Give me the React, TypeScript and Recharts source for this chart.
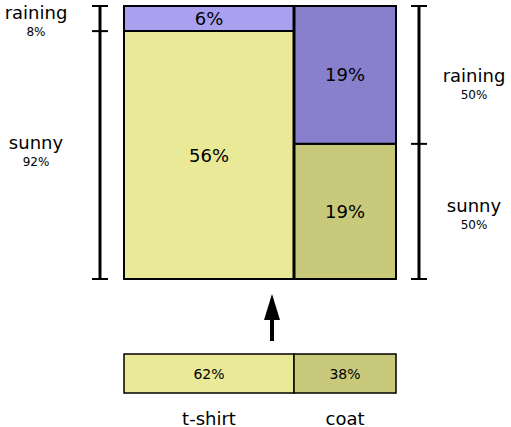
import { ComposedChart, XAxis, YAxis, Line, ReferenceArea, ReferenceLine, ReferenceDot } from 'recharts';

// clothing split (x axis) and rain share inside each column
const clothes = ['t-shirt', 'coat'];
const clothesShare = [0.625, 0.375];
const clothesLabels = ['62%', '38%'];
const rainShare = [0.092, 0.505];
const rainLabels = ['6%', '19%'];
const sunLabels = ['56%', '19%'];
const rainColors = ['#a9a1f0', '#8880cc'];
const sunColors = ['#e9e997', '#c8c97a'];
const leftBracket = [
  { name: 'raining', pct: '8%' },
  { name: 'sunny', pct: '92%' },
];
const rightBracket = [
  { name: 'raining', pct: '50%' },
  { name: 'sunny', pct: '50%' },
];
const frame = [
  { x: 0, y: 0 },
  { x: 1, y: 1 },
];

const FONT = 'DejaVu Sans, sans-serif';
const PX = 1 / 272;
const PY = 1 / 273;

const txt = (value: string, size: number) => (props: any) => {
  const vb = props.viewBox || {};
  const x = vb.cx ?? vb.x + (vb.width || 0) / 2;
  const y = vb.cy ?? vb.y + (vb.height || 0) / 2;
  return (
    <text x={x} y={y} textAnchor="middle" dominantBaseline="central" fontFamily={FONT} fontSize={size} fill="#000">
      {value}
    </text>
  );
};

const Arrow = (props: any) => {
  const { cx, cy } = props;
  return <polygon points={`${cx},${cy} ${cx - 8},${cy + 26} ${cx + 8},${cy + 26}`} fill="#000" />;
};

export default function App() {
  const splitX = clothesShare[0];
  const lb = -24 * PX;
  const rb = 1 + 23 * PX;
  const tick = 8 * PX;
  const leftTicks = [1, 1 - rainShare[0], 0];
  const rightTicks = [1, 1 - rainShare[1], 0];
  const barTop = -75 * PY;
  const barBot = -114 * PY;

  const items: any[] = [];
  [0, 1].forEach((i) => {
    const x1 = i === 0 ? 0 : splitX;
    const x2 = i === 0 ? splitX : 1;
    items.push(
      <ReferenceArea key={`s${i}`} x1={x1} x2={x2} y1={0} y2={1 - rainShare[i]} fill={sunColors[i]} fillOpacity={1} stroke="#000" strokeWidth={2} ifOverflow="visible" label={txt(sunLabels[i], 18)} />,
      <ReferenceArea key={`r${i}`} x1={x1} x2={x2} y1={1 - rainShare[i]} y2={1} fill={rainColors[i]} fillOpacity={1} stroke="#000" strokeWidth={2} ifOverflow="visible" label={txt(rainLabels[i], 18)} />,
      <ReferenceArea key={`b${i}`} x1={x1} x2={x2} y1={barBot} y2={barTop} fill={sunColors[i]} fillOpacity={1} stroke="#000" strokeWidth={1.5} ifOverflow="visible" label={txt(clothesLabels[i], 14)} />,
      <ReferenceDot key={`c${i}`} x={(x1 + x2) / 2} y={-139 * PY} r={0} fill="none" stroke="none" ifOverflow="visible" label={txt(clothes[i], 18)} />
    );
  });
  items.push(
    <ReferenceLine key="split" segment={[{ x: splitX, y: 0 }, { x: splitX, y: 1 }]} stroke="#000" strokeWidth={3} ifOverflow="visible" />,
    <ReferenceLine key="lb" segment={[{ x: lb, y: 0 }, { x: lb, y: 1 }]} stroke="#000" strokeWidth={3} ifOverflow="visible" />,
    <ReferenceLine key="rb" segment={[{ x: rb, y: 0 }, { x: rb, y: 1 }]} stroke="#000" strokeWidth={3} ifOverflow="visible" />
  );
  leftTicks.forEach((t, i) =>
    items.push(<ReferenceLine key={`lt${i}`} segment={[{ x: lb - tick, y: t }, { x: lb + tick, y: t }]} stroke="#000" strokeWidth={2} ifOverflow="visible" />)
  );
  rightTicks.forEach((t, i) =>
    items.push(<ReferenceLine key={`rt${i}`} segment={[{ x: rb - tick, y: t }, { x: rb + tick, y: t }]} stroke="#000" strokeWidth={2} ifOverflow="visible" />)
  );
  leftBracket.forEach((b, i) => {
    const yc = i === 0 ? 1 - 6 * PY : 1 - 136 * PY;
    items.push(
      <ReferenceDot key={`ln${i}`} x={-88 * PX} y={yc} r={0} fill="none" stroke="none" ifOverflow="visible" label={txt(b.name, 18)} />,
      <ReferenceDot key={`lp${i}`} x={-88 * PX} y={yc - 20 * PY} r={0} fill="none" stroke="none" ifOverflow="visible" label={txt(b.pct, 12)} />
    );
  });
  rightBracket.forEach((b, i) => {
    const yc = i === 0 ? 1 - 69 * PY : 1 - 199 * PY;
    items.push(
      <ReferenceDot key={`rn${i}`} x={1 + 78 * PX} y={yc} r={0} fill="none" stroke="none" ifOverflow="visible" label={txt(b.name, 18)} />,
      <ReferenceDot key={`rp${i}`} x={1 + 78 * PX} y={yc - 20 * PY} r={0} fill="none" stroke="none" ifOverflow="visible" label={txt(b.pct, 12)} />
    );
  });
  items.push(
    <ReferenceLine key="arrowShaft" segment={[{ x: 148 * PX, y: -62 * PY }, { x: 148 * PX, y: -36 * PY }]} stroke="#000" strokeWidth={4} ifOverflow="visible" />,
    <ReferenceDot key="arrowHead" x={148 * PX} y={-15 * PY} r={0} ifOverflow="visible" shape={Arrow} />
  );

  return (
    <div style={{ position: 'absolute', left: 0, top: 0 }}>
      <ComposedChart width={511} height={427} margin={{ top: 6, right: 115, bottom: 148, left: 124 }} data={frame}>
        <XAxis type="number" dataKey="x" domain={[0, 1]} allowDataOverflow hide />
        <YAxis type="number" dataKey="y" domain={[0, 1]} allowDataOverflow hide />
        <Line dataKey="y" stroke="none" dot={false} isAnimationActive={false} />
        {items}
      </ComposedChart>
    </div>
  );
}
